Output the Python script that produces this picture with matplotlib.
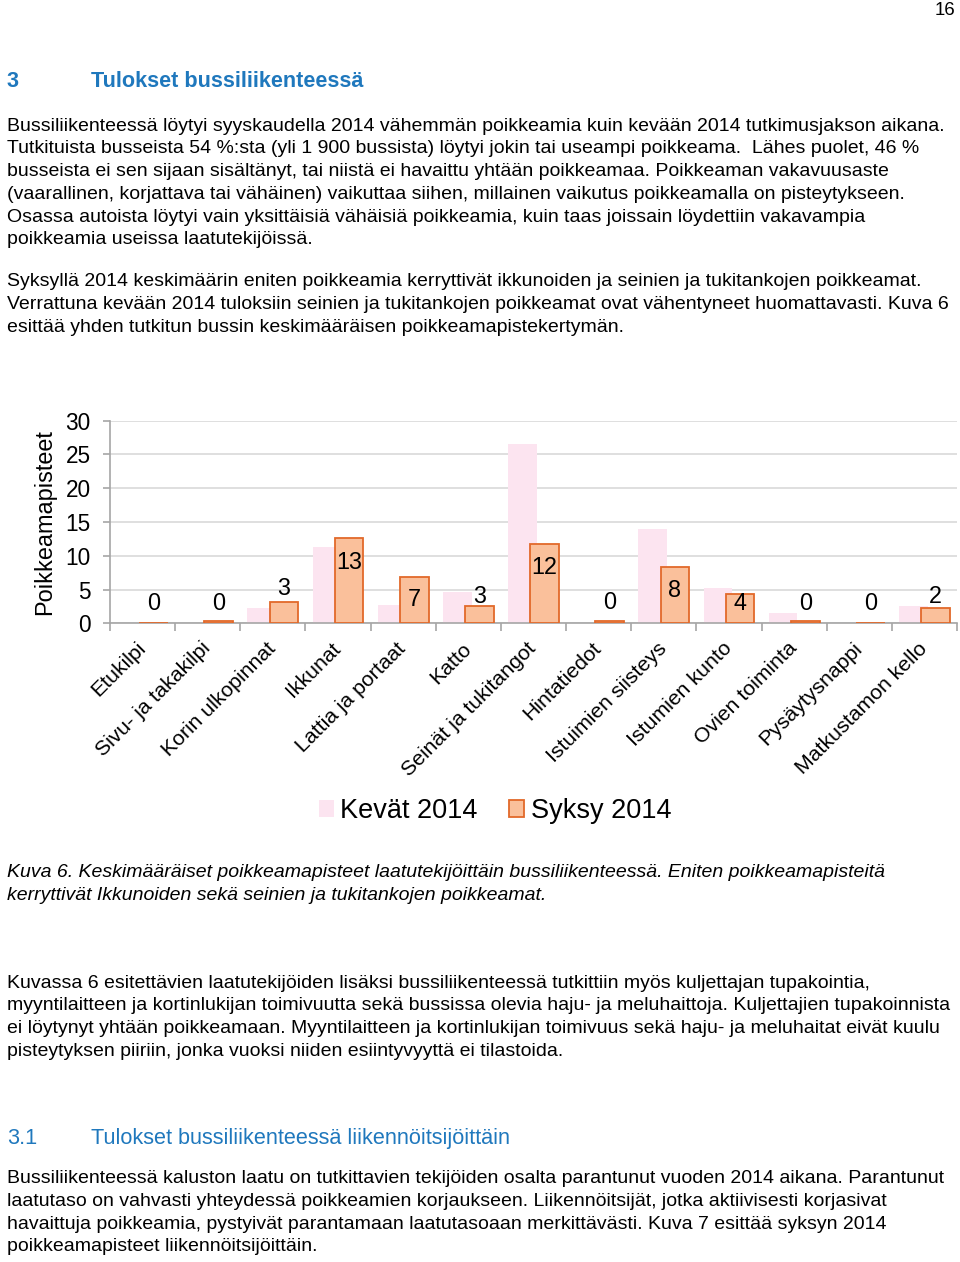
import matplotlib.pyplot as plt
import numpy as np

# chart data
categories = ["Etukilpi", "Sivu- ja takakilpi", "Korin ulkopinnat", "Ikkunat",
              "Lattia ja portaat", "Katto", "Seinät ja tukitangot", "Hintatiedot",
              "Istuimien siisteys", "Istumien kunto", "Ovien toiminta",
              "Pysäytysnappi", "Matkustamon kello"]
kevat_2014 = [0.0, 0.0, 2.3, 11.3, 2.7, 4.6, 26.6, 0.0, 14.0, 5.2, 1.5, 0.0, 2.6]
syksy_2014 = [0.05, 0.3, 3.1, 12.6, 6.9, 2.6, 11.7, 0.4, 8.4, 4.4, 0.3, 0.1, 2.2]
series_names = ["Kevät 2014", "Syksy 2014"]
# where Excel put the value labels (data units)
label_y = [2.95, 2.95, 5.2, 9.0, 3.5, 4.0, 8.3, 3.1, 4.9, 3.0, 2.95, 2.95, 4.0]

para1 = [
    "Bussiliikenteessä löytyi syyskaudella 2014 vähemmän poikkeamia kuin kevään 2014 tutkimusjakson aikana.",
    "Tutkituista busseista 54 %:sta (yli 1 900 bussista) löytyi jokin tai useampi poikkeama.  Lähes puolet, 46 %",
    "busseista ei sen sijaan sisältänyt, tai niistä ei havaittu yhtään poikkeamaa. Poikkeaman vakavuusaste",
    "(vaarallinen, korjattava tai vähäinen) vaikuttaa siihen, millainen vaikutus poikkeamalla on pisteytykseen.",
    "Osassa autoista löytyi vain yksittäisiä vähäisiä poikkeamia, kuin taas joissain löydettiin vakavampia",
    "poikkeamia useissa laatutekijöissä.",
]
para2 = [
    "Syksyllä 2014 keskimäärin eniten poikkeamia kerryttivät ikkunoiden ja seinien ja tukitankojen poikkeamat.",
    "Verrattuna kevään 2014 tuloksiin seinien ja tukitankojen poikkeamat ovat vähentyneet huomattavasti. Kuva 6",
    "esittää yhden tutkitun bussin keskimääräisen poikkeamapistekertymän.",
]
caption = [
    "Kuva 6. Keskimääräiset poikkeamapisteet laatutekijöittäin bussiliikenteessä. Eniten poikkeamapisteitä",
    "kerryttivät Ikkunoiden sekä seinien ja tukitankojen poikkeamat.",
]
para3 = [
    "Kuvassa 6 esitettävien laatutekijöiden lisäksi bussiliikenteessä tutkittiin myös kuljettajan tupakointia,",
    "myyntilaitteen ja kortinlukijan toimivuutta sekä bussissa olevia haju- ja meluhaittoja. Kuljettajien tupakoinnista",
    "ei löytynyt yhtään poikkeamaan. Myyntilaitteen ja kortinlukijan toimivuus sekä haju- ja meluhaitat eivät kuulu",
    "pisteytyksen piiriin, jonka vuoksi niiden esiintyvyyttä ei tilastoida.",
]
para4 = [
    "Bussiliikenteessä kaluston laatu on tutkittavien tekijöiden osalta parantunut vuoden 2014 aikana. Parantunut",
    "laatutaso on vahvasti yhteydessä poikkeamien korjaukseen. Liikennöitsijät, jotka aktiivisesti korjasivat",
    "havaittuja poikkeamia, pystyivät parantamaan laatutasoaan merkittävästi. Kuva 7 esittää syksyn 2014",
    "poikkeamapisteet liikennöitsijöittäin.",
]

plt.rcParams['font.family'] = ['Liberation Sans', 'DejaVu Sans']

W, H = 960, 1262
BLUE = '#1f78bd'
BODY = 14.0
HEAD = 15.6
LINE = 22.7

fig = plt.figure(figsize=(W / 100, H / 100), dpi=100)


def put(x, y, s, **kw):
    # x, y in page pixels, y is the text baseline
    kw.setdefault('fontsize', BODY)
    fig.text(x / W, 1 - y / H, s, ha=kw.pop('ha', 'left'), va='baseline', **kw)


def paragraph(lines, y0, **kw):
    for i, s in enumerate(lines):
        put(7, y0 + i * LINE, s, **kw)


put(955, 15, "16", ha='right', fontsize=13.4)
put(7, 87, "3", fontsize=HEAD, fontweight='bold', color=BLUE)
put(91, 87, "Tulokset bussiliikenteessä", fontsize=HEAD, fontweight='bold', color=BLUE)
paragraph(para1, 130.7)
paragraph(para2, 286.5)
paragraph(caption, 877, style='italic')
paragraph(para3, 987.5)
put(7, 1144, "3.1", fontsize=HEAD, color=BLUE)
put(91, 1144, "Tulokset bussiliikenteessä liikennöitsijöittäin", fontsize=HEAD, color=BLUE)
paragraph(para4, 1183.3)

# chart
ax = fig.add_axes([110 / W, 1 - 623.3 / H, 847 / W, 202.6 / H])
x = np.arange(len(categories))
b1 = ax.bar(x - 0.17, kevat_2014, 0.44, color='#fce4f0', zorder=2)
b2 = ax.bar(x + 0.17, syksy_2014, 0.44, color='#fac09b', edgecolor='#e2692a',
            linewidth=1.3, zorder=3)

for i, (v, ly) in enumerate(zip(syksy_2014, label_y)):
    ax.text(i + 0.17, ly, f"{v:.0f}", ha='center', va='center', fontsize=16.8, zorder=4)

ax.set_xlim(-0.5, len(categories) - 0.5)
ax.set_ylim(0, 30)
ax.set_yticks(range(0, 31, 5))
ax.yaxis.grid(True, color='#d9d9d9', linewidth=1.2)
ax.set_axisbelow(True)
for side in ['top', 'right']:
    ax.spines[side].set_visible(False)
for side in ['left', 'bottom']:
    ax.spines[side].set_color('#a6a6a6')
    ax.spines[side].set_linewidth(1.2)
ax.tick_params(axis='y', length=5, width=1.2, color='#a6a6a6', labelsize=16.3, pad=9)

ax.set_xticks(np.arange(-0.5, len(categories), 1))
ax.set_xticklabels([])
ax.tick_params(axis='x', which='major', length=6, width=1.2, color='#a6a6a6')
ax.set_xticks(x, minor=True)
ax.set_xticklabels(categories, minor=True, rotation=45, ha='right', va='center',
                   rotation_mode='anchor', fontsize=15.3)
ax.tick_params(axis='x', which='minor', length=0, pad=16)

fig.text(45 / W, 1 - 522 / H, "Poikkeamapisteet", rotation=90, ha='center', va='center',
         fontsize=16.9)

fig.legend([b1, b2], series_names, loc='center', bbox_to_anchor=(495 / W, 1 - 811 / H),
           ncol=2, frameon=False, fontsize=19.5, handlelength=0.56, handleheight=0.56,
           handletextpad=0.25, columnspacing=1.15, borderpad=0, borderaxespad=0)

fig.savefig('out.png', dpi=100)
